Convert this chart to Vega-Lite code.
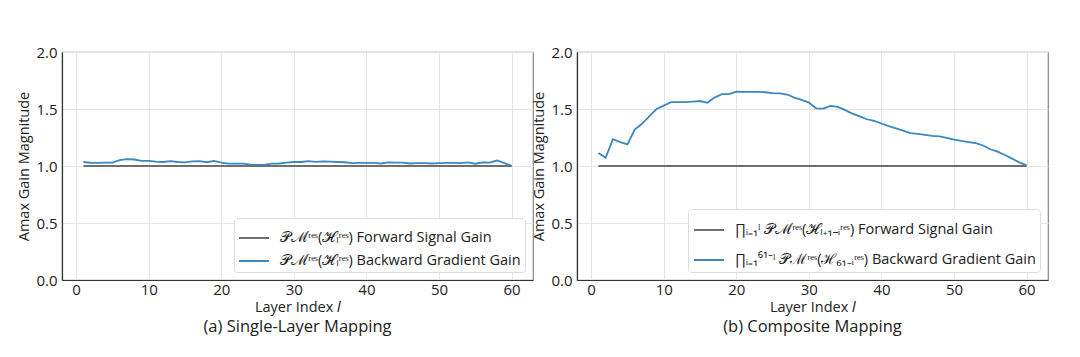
{
  "$schema": "https://vega.github.io/schema/vega-lite/v6.json",
  "background": "white",
  "padding": {"left": 16, "top": 44, "right": 10, "bottom": 3},
  "bounds": "flush",
  "spacing": 44,
  "config": {
    "font": "Open Sans",
    "view": {"stroke": "#888888", "strokeWidth": 1.2},
    "axis": {
      "labelFont": "Open Sans", "titleFont": "Open Sans",
      "labelFontSize": 15, "titleFontSize": 14.5, "titleFontWeight": "normal",
      "labelColor": "#222222", "titleColor": "#222222",
      "domainColor": "#333333", "domainWidth": 1.2,
      "ticks": false, "labelPadding": 5,
      "gridColor": "#e6e6e6", "gridWidth": 1
    },
    "legend": {
      "orient": "bottom-right", "offset": 8,
      "fillColor": "white", "strokeColor": "#dddddd", "cornerRadius": 3,
      "padding": 4, "symbolType": "stroke", "symbolSize": 900, "symbolStrokeWidth": 2,
      "labelFont": "Open Sans", "labelFontSize": 14.5, "labelColor": "#222222",
      "labelLimit": 500, "labelOffset": 10, "rowPadding": 0
    },
    "title": {"font": "Open Sans", "fontSize": 16.5, "fontWeight": "normal", "color": "#222222", "orient": "bottom", "anchor": "middle", "offset": 5}
  },
  "resolve": {"scale": {"color": "independent"}, "legend": {"color": "independent"}},
  "data": {"values": [
    {"l":1,"f":1.0,"a":1.035,"b":1.115},
    {"l":2,"f":1.0,"a":1.028,"b":1.074},
    {"l":3,"f":1.0,"a":1.027,"b":1.235},
    {"l":4,"f":1.0,"a":1.030,"b":1.21},
    {"l":5,"f":1.0,"a":1.030,"b":1.19},
    {"l":6,"f":1.0,"a":1.052,"b":1.32},
    {"l":7,"f":1.0,"a":1.060,"b":1.37},
    {"l":8,"f":1.0,"a":1.057,"b":1.435},
    {"l":9,"f":1.0,"a":1.045,"b":1.50},
    {"l":10,"f":1.0,"a":1.045,"b":1.53},
    {"l":11,"f":1.0,"a":1.038,"b":1.56},
    {"l":12,"f":1.0,"a":1.035,"b":1.56},
    {"l":13,"f":1.0,"a":1.042,"b":1.56},
    {"l":14,"f":1.0,"a":1.035,"b":1.565},
    {"l":15,"f":1.0,"a":1.032,"b":1.57},
    {"l":16,"f":1.0,"a":1.040,"b":1.555},
    {"l":17,"f":1.0,"a":1.042,"b":1.60},
    {"l":18,"f":1.0,"a":1.033,"b":1.63},
    {"l":19,"f":1.0,"a":1.045,"b":1.63},
    {"l":20,"f":1.0,"a":1.030,"b":1.653},
    {"l":21,"f":1.0,"a":1.020,"b":1.65},
    {"l":22,"f":1.0,"a":1.020,"b":1.65},
    {"l":23,"f":1.0,"a":1.020,"b":1.65},
    {"l":24,"f":1.0,"a":1.012,"b":1.647},
    {"l":25,"f":1.0,"a":1.010,"b":1.64},
    {"l":26,"f":1.0,"a":1.012,"b":1.637},
    {"l":27,"f":1.0,"a":1.020,"b":1.627},
    {"l":28,"f":1.0,"a":1.022,"b":1.60},
    {"l":29,"f":1.0,"a":1.030,"b":1.58},
    {"l":30,"f":1.0,"a":1.035,"b":1.556},
    {"l":31,"f":1.0,"a":1.035,"b":1.506},
    {"l":32,"f":1.0,"a":1.042,"b":1.503},
    {"l":33,"f":1.0,"a":1.037,"b":1.527},
    {"l":34,"f":1.0,"a":1.040,"b":1.518},
    {"l":35,"f":1.0,"a":1.038,"b":1.49},
    {"l":36,"f":1.0,"a":1.035,"b":1.46},
    {"l":37,"f":1.0,"a":1.033,"b":1.435},
    {"l":38,"f":1.0,"a":1.025,"b":1.41},
    {"l":39,"f":1.0,"a":1.028,"b":1.395},
    {"l":40,"f":1.0,"a":1.028,"b":1.373},
    {"l":41,"f":1.0,"a":1.028,"b":1.35},
    {"l":42,"f":1.0,"a":1.022,"b":1.33},
    {"l":43,"f":1.0,"a":1.032,"b":1.31},
    {"l":44,"f":1.0,"a":1.030,"b":1.288},
    {"l":45,"f":1.0,"a":1.030,"b":1.282},
    {"l":46,"f":1.0,"a":1.022,"b":1.273},
    {"l":47,"f":1.0,"a":1.025,"b":1.265},
    {"l":48,"f":1.0,"a":1.025,"b":1.26},
    {"l":49,"f":1.0,"a":1.022,"b":1.247},
    {"l":50,"f":1.0,"a":1.025,"b":1.232},
    {"l":51,"f":1.0,"a":1.027,"b":1.22},
    {"l":52,"f":1.0,"a":1.027,"b":1.21},
    {"l":53,"f":1.0,"a":1.025,"b":1.20},
    {"l":54,"f":1.0,"a":1.032,"b":1.18},
    {"l":55,"f":1.0,"a":1.020,"b":1.147},
    {"l":56,"f":1.0,"a":1.032,"b":1.126},
    {"l":57,"f":1.0,"a":1.030,"b":1.097},
    {"l":58,"f":1.0,"a":1.048,"b":1.065},
    {"l":59,"f":1.0,"a":1.025,"b":1.032},
    {"l":60,"f":1.0,"a":1.002,"b":1.006}
  ]},
  "hconcat": [
    {
      "width": 471, "height": 228,
      "title": "(a) Single-Layer Mapping",
      "transform": [{"fold": ["f", "a"], "as": ["series", "v"]}],
      "mark": {"type": "line", "strokeWidth": 1.8},
      "encoding": {
        "x": {"field": "l", "type": "quantitative", "title": "Layer Index 𝑙",
              "scale": {"domain": [-1.95, 62.95], "nice": false, "zero": false},
              "axis": {"values": [0, 10, 20, 30, 40, 50, 60], "labelPadding": 2, "titlePadding": 3}},
        "y": {"field": "v", "type": "quantitative", "title": "Amax Gain Magnitude",
              "scale": {"domain": [0, 2], "nice": false},
              "axis": {"values": [0, 0.5, 1, 1.5, 2], "format": ".1f", "titlePadding": 4}},
        "color": {"field": "series", "type": "nominal",
                  "scale": {"domain": ["f", "a"], "range": ["#6e6e6e", "#3b87c0"]},
                  "legend": {"title": null,
                             "labelExpr": "datum.label == 'f' ? '𝒫ℳʳᵉˢ(ℋₗʳᵉˢ) Forward Signal Gain' : '𝒫ℳʳᵉˢ(ℋₗʳᵉˢ) Backward Gradient Gain'"}}
      }
    },
    {
      "width": 471, "height": 228,
      "title": "(b) Composite Mapping",
      "transform": [{"fold": ["f", "b"], "as": ["series", "v"]}],
      "mark": {"type": "line", "strokeWidth": 1.8},
      "encoding": {
        "x": {"field": "l", "type": "quantitative", "title": "Layer Index 𝑙",
              "scale": {"domain": [-1.95, 62.95], "nice": false, "zero": false},
              "axis": {"values": [0, 10, 20, 30, 40, 50, 60], "labelPadding": 2, "titlePadding": 3}},
        "y": {"field": "v", "type": "quantitative", "title": "Amax Gain Magnitude",
              "scale": {"domain": [0, 2], "nice": false},
              "axis": {"values": [0, 0.5, 1, 1.5, 2], "format": ".1f", "titlePadding": 4}},
        "color": {"field": "series", "type": "nominal",
                  "scale": {"domain": ["f", "b"], "range": ["#6e6e6e", "#3b87c0"]},
                  "legend": {"title": null, "rowPadding": 7, "padding": 5,
                             "labelExpr": "datum.label == 'f' ? '∏ᵢ₌₁ˡ 𝒫ℳʳᵉˢ(ℋₗ₊₁₋ᵢʳᵉˢ) Forward Signal Gain' : '∏ᵢ₌₁⁶¹⁻ˡ 𝒫ℳʳᵉˢ(ℋ₆₁₋ᵢʳᵉˢ) Backward Gradient Gain'"}}
      }
    }
  ]
}
